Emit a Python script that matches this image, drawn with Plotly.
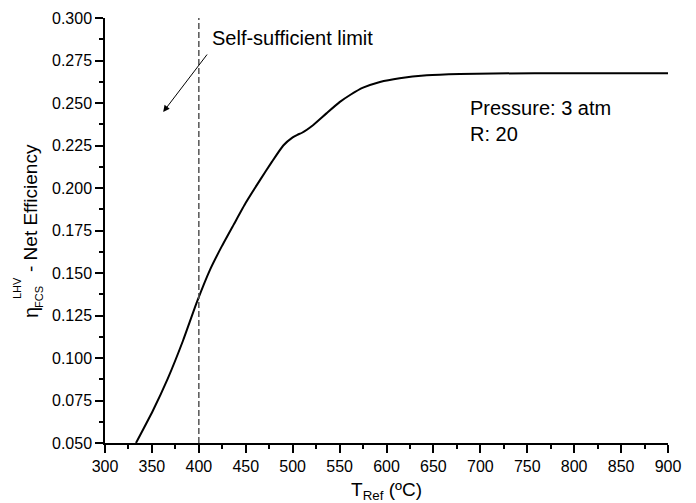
import plotly.graph_objects as go

# Data
T_ref = [333, 351, 367, 383, 398, 412, 424, 437, 450, 465, 478, 490, 500, 505,
         510, 522, 536, 550, 562, 575, 593, 614, 643, 678, 714, 800, 900]
eta = [0.050, 0.069, 0.088, 0.110, 0.1330, 0.1520, 0.1652, 0.1783, 0.1913, 0.2045,
       0.2155, 0.2250, 0.2298, 0.2313, 0.2325, 0.2371, 0.2439, 0.2505, 0.2550,
       0.2590, 0.2624, 0.2646, 0.2663, 0.2671, 0.2674, 0.2675, 0.2675]
limit_T = 400
x_ticks = [300, 350, 400, 450, 500, 550, 600, 650, 700, 750, 800, 850, 900]
y_ticks = [0.050, 0.075, 0.100, 0.125, 0.150, 0.175, 0.200, 0.225, 0.250, 0.275, 0.300]

FONT = "Arial, Liberation Sans, sans-serif"

fig = go.Figure()
fig.add_trace(go.Scatter(x=T_ref, y=eta, mode="lines",
                         line=dict(color="black", width=2, shape="spline", smoothing=0.5),
                         showlegend=False, hoverinfo="skip"))
fig.add_trace(go.Scatter(x=[limit_T, limit_T], y=[y_ticks[0], y_ticks[-1]], mode="lines",
                         line=dict(color="#555555", width=1.5, dash="6px,3px"),
                         showlegend=False, hoverinfo="skip"))

axis_common = dict(showline=True, linecolor="black", linewidth=1.5, showgrid=False,
                   zeroline=False, ticks="outside", ticklen=8, tickwidth=1.5,
                   tickcolor="black", tickfont=dict(family=FONT, size=16, color="black"),
                   automargin=False)

fig.update_xaxes(range=[300, 900], tickvals=x_ticks, **axis_common,
                 minor=dict(ticks="outside", ticklen=4, tickwidth=1.5, dtick=25,
                            tickcolor="black", showgrid=False),
                 title=dict(text="T<sub>Ref</sub> (ºC)", font=dict(family=FONT, size=19, color="black"),
                            standoff=9))
fig.update_yaxes(range=[0.05, 0.30], tickvals=y_ticks, tickformat=".3f", **axis_common,
                 minor=dict(ticks="outside", ticklen=4, tickwidth=1.5, dtick=0.0125,
                            tickcolor="black", showgrid=False))

L, R, TOP, B, W, H = 105, 28, 18, 60, 696, 503
pw, ph = W - L - R, H - TOP - B

def px(x):
    return (x - L) / pw

def py(y):
    return (H - B - y) / ph

ann = []
# y-axis title pieces
ann.append(dict(text="- Net Efficiency", xref="paper", yref="paper", x=px(31), y=py(208),
                xanchor="center", yanchor="middle", textangle=-90, showarrow=False,
                font=dict(family=FONT, size=19, color="black")))
ann.append(dict(text="η", xref="paper", yref="paper", x=px(31), y=py(313),
                xanchor="center", yanchor="middle", textangle=-90, showarrow=False,
                font=dict(family=FONT, size=20, color="black")))
ann.append(dict(text="LHV", xref="paper", yref="paper", x=px(17), y=py(288),
                xanchor="center", yanchor="middle", textangle=-90, showarrow=False,
                font=dict(family=FONT, size=11, color="black")))
ann.append(dict(text="FCS", xref="paper", yref="paper", x=px(39), y=py(297),
                xanchor="center", yanchor="middle", textangle=-90, showarrow=False,
                font=dict(family=FONT, size=11, color="black")))
# texts
ann.append(dict(text="Self-sufficient limit", x=412, y=0.2880, xref="x", yref="y",
                xanchor="left", yanchor="middle", showarrow=False,
                font=dict(family=FONT, size=20, color="black")))
ann.append(dict(text="Pressure: 3 atm<br>R: 20", x=687, y=0.2545, xref="x", yref="y",
                xanchor="left", yanchor="top", align="left", showarrow=False,
                font=dict(family=FONT, size=20, color="black")))
# arrow
ann.append(dict(text="", x=362, y=0.2447, ax=410, ay=0.2794, xref="x", yref="y",
                axref="x", ayref="y", showarrow=True, arrowhead=2, arrowsize=1.3,
                arrowwidth=1, arrowcolor="black"))

fig.update_layout(width=W, height=H, margin=dict(l=L, r=R, t=TOP, b=B, autoexpand=False),
                  plot_bgcolor="white", paper_bgcolor="white", annotations=ann,
                  font=dict(family=FONT, color="black"))

fig.write_html("out.html")
